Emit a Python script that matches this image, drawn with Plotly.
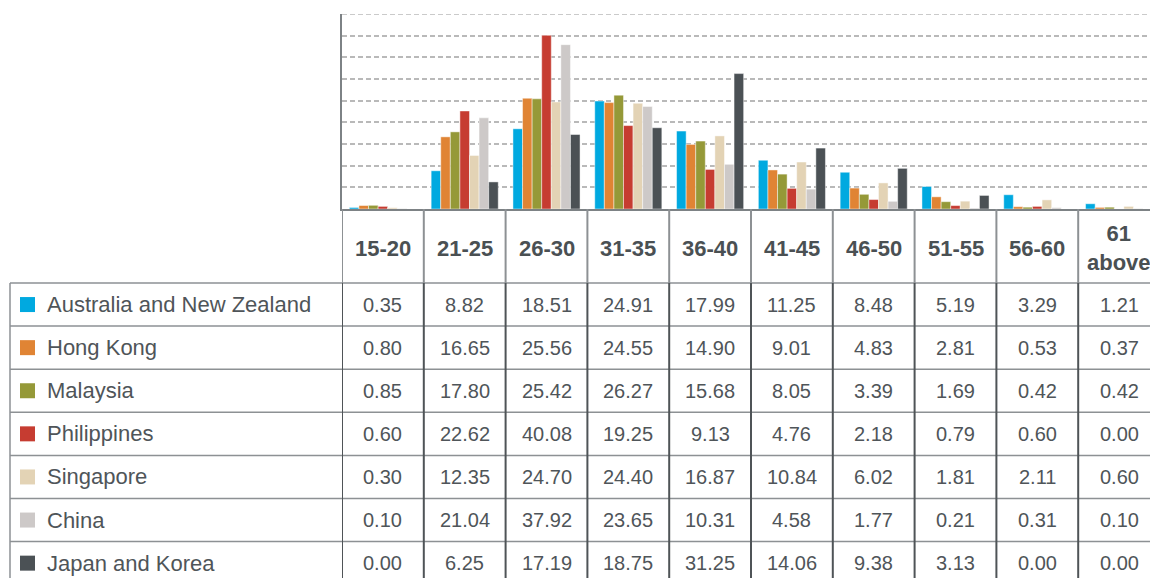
import plotly.graph_objects as go

age_groups = ["15-20", "21-25", "26-30", "31-35", "36-40", "41-45", "46-50", "51-55", "56-60", "61 above"]
header_labels = ["15-20", "21-25", "26-30", "31-35", "36-40", "41-45", "46-50", "51-55", "56-60", "61<br>above"]

countries = ["Australia and New Zealand", "Hong Kong", "Malaysia", "Philippines", "Singapore", "China", "Japan and Korea"]

australia_nz = [0.35, 8.82, 18.51, 24.91, 17.99, 11.25, 8.48, 5.19, 3.29, 1.21]
hong_kong = [0.80, 16.65, 25.56, 24.55, 14.90, 9.01, 4.83, 2.81, 0.53, 0.37]
malaysia = [0.85, 17.80, 25.42, 26.27, 15.68, 8.05, 3.39, 1.69, 0.42, 0.42]
philippines = [0.60, 22.62, 40.08, 19.25, 9.13, 4.76, 2.18, 0.79, 0.60, 0.00]
singapore = [0.30, 12.35, 24.70, 24.40, 16.87, 10.84, 6.02, 1.81, 2.11, 0.60]
china = [0.10, 21.04, 37.92, 23.65, 10.31, 4.58, 1.77, 0.21, 0.31, 0.10]
japan_korea = [0.00, 6.25, 17.19, 18.75, 31.25, 14.06, 9.38, 3.13, 0.00, 0.00]

series = [australia_nz, hong_kong, malaysia, philippines, singapore, china, japan_korea]
colors = ["#00A9E0", "#E08434", "#959938", "#C63C31", "#E3D3B5", "#CDC9C8", "#4B5155"]

W, H = 1150, 578
TEXT = "#4f5559"
GRID_LINE = "#8d9194"
DARK_LINE = "#4f5457"
FONT = "Liberation Sans, Arial, sans-serif"


def px(x):
    return x / W


def py(y):
    return 1 - y / H


fig = go.Figure()
for name, vals, col in zip(countries, series, colors):
    fig.add_trace(go.Bar(
        x=age_groups, y=vals, name=name,
        marker=dict(color=col, line=dict(color="rgba(255,255,255,0.45)", width=1)),
        showlegend=False,
    ))

plot_left, plot_top, plot_bottom = 342, 14, 209
col_w = 81.8
x_end = -0.5 + (W - plot_left) / col_w

shapes = []
annotations = []

row_top = 283
row_h = 43.1
n = len(age_groups)

# top gridline (at 45)
shapes.append(dict(type="line", xref="paper", yref="y", x0=px(plot_left), x1=1, y0=45, y1=45,
                   line=dict(color="#b9b9b9", width=1.5, dash="5px,3px")))

# header vertical lines (light) and data vertical lines (dark)
for i in range(n + 1):
    xv = i - 0.5
    shapes.append(dict(type="line", xref="x", yref="paper", x0=xv, x1=xv,
                       y0=py(plot_bottom), y1=py(row_top), line=dict(color=GRID_LINE, width=2)))
    shapes.append(dict(type="line", xref="x", yref="paper", x0=xv, x1=xv,
                       y0=py(row_top), y1=py(H + 10), line=dict(color=DARK_LINE, width=2)))

# left border of label column
shapes.append(dict(type="line", xref="paper", yref="paper", x0=px(10), x1=px(10),
                   y0=py(row_top), y1=py(H + 10), line=dict(color=GRID_LINE, width=1.5)))

# horizontal row lines
for r in range(len(countries) + 1):
    yy = row_top + r * row_h
    shapes.append(dict(type="line", xref="paper", yref="paper", x0=px(10), x1=1.05,
                       y0=py(yy), y1=py(yy), line=dict(color=GRID_LINE, width=1.5), layer="below"))

# header text
for cat, lab in zip(age_groups, header_labels):
    annotations.append(dict(xref="x", yref="paper", x=cat, y=py(248), text="<b>" + lab + "</b>",
                            showarrow=False, xanchor="center", yanchor="middle",
                            font=dict(family=FONT, size=22, color="#4a5053")))

# rows
for r, (name, vals, col) in enumerate(zip(countries, series, colors)):
    yc = row_top + r * row_h + row_h / 2
    shapes.append(dict(type="rect", xref="paper", yref="paper", x0=px(20), x1=px(35),
                       y0=py(yc - 7.5), y1=py(yc + 7.5), fillcolor=col, line=dict(width=0)))
    annotations.append(dict(xref="paper", yref="paper", x=px(45), y=py(yc), text=name,
                            showarrow=False, xanchor="left", yanchor="middle",
                            font=dict(family=FONT, size=22, color=TEXT)))
    for cat, v in zip(age_groups, vals):
        annotations.append(dict(xref="x", yref="paper", x=cat, y=py(yc), text=f"{v:.2f}",
                                showarrow=False, xanchor="center", yanchor="middle",
                                font=dict(family=FONT, size=20, color=TEXT)))

fig.update_layout(
    width=W, height=H,
    margin=dict(l=0, r=0, t=0, b=0),
    paper_bgcolor="white", plot_bgcolor="white",
    barmode="group", bargap=0.18, bargroupgap=0,
    xaxis=dict(domain=[px(plot_left), 1], range=[-0.5, x_end], showticklabels=False,
               showline=True, linecolor="#7d8285", linewidth=2, ticks="", showgrid=False,
               zeroline=False, fixedrange=True),
    yaxis=dict(domain=[py(plot_bottom), py(plot_top)], range=[0, 45], dtick=5, tick0=0,
               showticklabels=False, showline=True, linecolor="#7d8285", linewidth=2,
               showgrid=True, gridcolor="#b9b9b9", gridwidth=1.5, griddash="5px,3px",
               zeroline=False, ticks="", fixedrange=True),
    shapes=shapes,
    annotations=annotations,
    font=dict(family=FONT),
)

fig.write_html("out.html")
